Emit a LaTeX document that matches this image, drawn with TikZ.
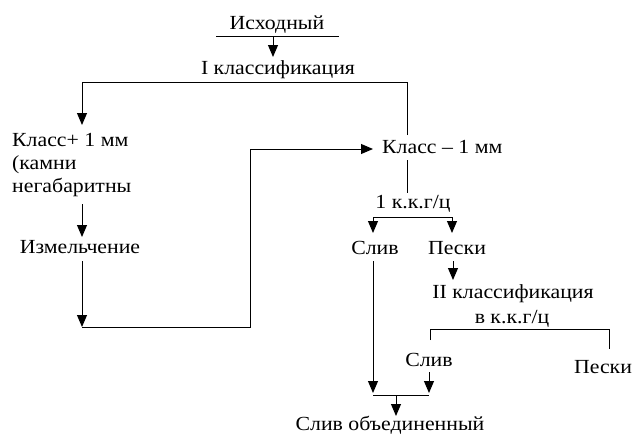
\documentclass[tikz,border=0pt]{standalone}
\usepackage{fontspec}
\setmainfont{Liberation Serif}[FakeStretch=1.09]
\usetikzlibrary{arrows.meta}
\begin{document}
\begin{tikzpicture}[x=1pt,y=-1pt,
  lbl/.style={inner sep=0pt,anchor=base,font=\fontsize{20}{23}\selectfont},
  lblw/.style={lbl,anchor=base west},
  wire/.style={line width=1pt},
  flow/.style={wire,-{Triangle[length=12pt,width=10pt]}}]
\useasboundingbox[fill=white] (0,0) rectangle (632,437);

% text of the flow sheet
\node[lbl]  (src)   at (277,29)  {Исходный};
\node[lbl]  (cls1)  at (278,74)  {I классификация};
\node[lblw] (plus)  at (12,146)  {Класс+ 1 мм};
\node[lblw] (stone) at (12,169)  {(камни};
\node[lblw] (big)   at (12,192)  {негабаритны};
\node[lbl]  (mill)  at (80,253)  {Измельчение};
\node[lblw] (minus) at (382,153) {Класс – 1 мм};
\node[lbl]  (hc1)   at (413,208) {1 к.к.г/ц};
\node[lbl]  (ov1)   at (375,254) {Слив};
\node[lbl]  (sd1)   at (457,254) {Пески};
\node[lbl]  (cls2)  at (513,298) {II классификация};
\node[lbl]  (hc2)   at (512,323) {в к.к.г/ц};
\node[lbl]  (ov2)   at (429,366) {Слив};
\node[lbl]  (sd2)   at (603,373) {Пески};
\node[lbl]  (ovall) at (390,430) {Слив объединенный};

% junction points of the lines
\coordinate (u1) at (216,36);  \coordinate (u2) at (339,36);
\coordinate (a0) at (273,36);  \coordinate (a1) at (273,57);
\coordinate (t1) at (82,82);   \coordinate (t2) at (407,82);
\coordinate (t3) at (82,125);  \coordinate (t4) at (407,135);
\coordinate (m1) at (82,204);  \coordinate (m2) at (82,237);
\coordinate (r1) at (82,261);  \coordinate (r2) at (82,327);
\coordinate (r3) at (250,327); \coordinate (r4) at (250,149);
\coordinate (r5) at (373,149);
\coordinate (k1) at (407,160); \coordinate (k2) at (407,193);
\coordinate (s1) at (373,217); \coordinate (s2) at (452,217);
\coordinate (s3) at (373,233); \coordinate (s4) at (452,233);
\coordinate (p1) at (453,261); \coordinate (p2) at (453,280);
\coordinate (o1) at (373,261); \coordinate (o2) at (373,393);
\coordinate (w1) at (430,340); \coordinate (w2) at (430,329);
\coordinate (w3) at (609,329); \coordinate (w4) at (609,349);
\coordinate (v1) at (429,372); \coordinate (v2) at (429,393);
\coordinate (j1) at (373,395); \coordinate (j2) at (429,395);
\coordinate (j3) at (396,395); \coordinate (j4) at (396,416);

% connectors
\draw[wire] (u1) -- (u2);
\draw[flow] (a0) -- (a1);
\draw[flow] (t4) -- (t2) -- (t1) -- (t3);
\draw[flow] (m1) -- (m2);
\draw[flow] (r1) -- (r2);
\draw[flow] (r2) -- (r3) -- (r4) -- (r5);
\draw[wire] (k1) -- (k2);
\draw[flow] (s1) -- (s3);
\draw[flow] (s1) -- (s2) -- (s4);
\draw[flow] (p1) -- (p2);
\draw[flow] (o1) -- (o2);
\draw[wire] (w1) -- (w2) -- (w3) -- (w4);
\draw[flow] (v1) -- (v2);
\draw[wire] (j1) -- (j2);
\draw[flow] (j3) -- (j4);
\end{tikzpicture}
\end{document}
